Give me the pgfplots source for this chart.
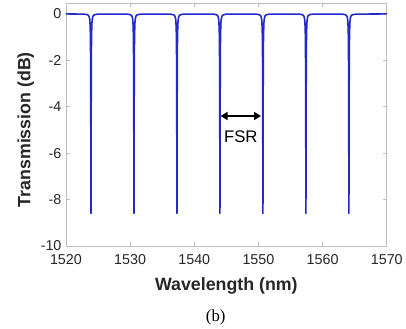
\documentclass[border=0pt]{standalone}
\usepackage{pgfplots}
\pgfplotsset{compat=1.18}
\usepackage{pgfplotstable}
\usepackage{fontspec}
\setmainfont{Liberation Sans}
\newfontfamily\seriffont{Liberation Serif}
\usetikzlibrary{arrows.meta}
\definecolor{mblue}{RGB}{35,40,205}
\definecolor{tickgray}{RGB}{38,38,38}
\definecolor{axgray}{RGB}{190,190,190}
\pgfplotstableread{
x y
1520 0
1522.9 -0.01
1523.4 -0.04
1523.6 -0.10
1523.7 -0.23
1523.75 -0.39
1523.8 -0.82
1523.82 -1.20
1523.84 -1.89
1523.86 -3.24
1523.88 -5.90
1523.9 -8.60
1523.92 -5.90
1523.94 -3.24
1523.96 -1.89
1523.98 -1.20
1524.0 -0.82
1524.05 -0.39
1524.1 -0.23
1524.2 -0.10
1524.4 -0.04
1524.9 -0.01
1529.6 -0.01
1530.1 -0.04
1530.3 -0.10
1530.4 -0.23
1530.45 -0.39
1530.5 -0.82
1530.52 -1.20
1530.54 -1.89
1530.56 -3.24
1530.58 -5.90
1530.6 -8.60
1530.62 -5.90
1530.64 -3.24
1530.66 -1.89
1530.68 -1.20
1530.7 -0.82
1530.75 -0.39
1530.8 -0.23
1530.9 -0.10
1531.1 -0.04
1531.6 -0.01
1536.3 -0.01
1536.8 -0.04
1537.0 -0.10
1537.1 -0.23
1537.15 -0.39
1537.2 -0.82
1537.22 -1.20
1537.24 -1.89
1537.26 -3.24
1537.28 -5.90
1537.3 -8.60
1537.32 -5.90
1537.34 -3.24
1537.36 -1.89
1537.38 -1.20
1537.4 -0.82
1537.45 -0.39
1537.5 -0.23
1537.6 -0.10
1537.8 -0.04
1538.3 -0.01
1543.0 -0.01
1543.5 -0.04
1543.7 -0.10
1543.8 -0.23
1543.85 -0.39
1543.9 -0.82
1543.92 -1.20
1543.94 -1.89
1543.96 -3.24
1543.98 -5.90
1544.0 -8.60
1544.02 -5.90
1544.04 -3.24
1544.06 -1.89
1544.08 -1.20
1544.1 -0.82
1544.15 -0.39
1544.2 -0.23
1544.3 -0.10
1544.5 -0.04
1545.0 -0.01
1549.7 -0.01
1550.2 -0.04
1550.4 -0.10
1550.5 -0.23
1550.55 -0.39
1550.6 -0.82
1550.62 -1.20
1550.64 -1.89
1550.66 -3.24
1550.68 -5.90
1550.7 -8.60
1550.72 -5.90
1550.74 -3.24
1550.76 -1.89
1550.78 -1.20
1550.8 -0.82
1550.85 -0.39
1550.9 -0.23
1551.0 -0.10
1551.2 -0.04
1551.7 -0.01
1556.4 -0.01
1556.9 -0.04
1557.1 -0.10
1557.2 -0.23
1557.25 -0.39
1557.3 -0.82
1557.32 -1.20
1557.34 -1.89
1557.36 -3.24
1557.38 -5.90
1557.4 -8.60
1557.42 -5.90
1557.44 -3.24
1557.46 -1.89
1557.48 -1.20
1557.5 -0.82
1557.55 -0.39
1557.6 -0.23
1557.7 -0.10
1557.9 -0.04
1558.4 -0.01
1563.1 -0.01
1563.6 -0.04
1563.8 -0.10
1563.9 -0.23
1563.95 -0.39
1564.0 -0.82
1564.02 -1.20
1564.04 -1.89
1564.06 -3.24
1564.08 -5.90
1564.1 -8.60
1564.12 -5.90
1564.14 -3.24
1564.16 -1.89
1564.18 -1.20
1564.2 -0.82
1564.25 -0.39
1564.3 -0.23
1564.4 -0.10
1564.6 -0.04
1565.1 -0.01
1570 0
}\spectrum
\begin{document}
\begin{tikzpicture}
\begin{axis}[
  scale only axis,
  width=323.5bp, height=244.5bp,
  xmin=1520, xmax=1570, ymin=-10, ymax=0.45,
  xtick={1520,1530,...,1570},
  ytick={-10,-8,...,0},
  axis line style={axgray, line width=0.6bp},
  tick style={axgray, line width=0.6bp},
  major tick length=4bp,
  tick align=inside,
  tick label style={font=\fontsize{14.5}{16}\selectfont, text=tickgray},
  /pgf/number format/assume math mode=true,
  /pgf/number format/1000 sep={},
  xticklabel style={yshift=-5bp},
  yticklabel style={xshift=-1bp},
  xlabel={\textbf{Wavelength (nm)}},
  ylabel={\textbf{Transmission (dB)}},
  label style={font=\fontsize{18}{20}\selectfont, text=tickgray},
  xlabel style={yshift=-6bp},
  ylabel style={xshift=-5bp},
]
\addplot[mblue, line width=1.6bp, line join=round] table[x=x,y=y] {\spectrum};
\draw[{Triangle[length=7bp,width=8bp]}-{Triangle[length=7bp,width=8bp]}, line width=2bp, black] (axis cs:1544.1,-4.4) -- (axis cs:1550.4,-4.4);
\node[font=\fontsize{17}{19}\selectfont, text=black] at (axis cs:1547.25,-5.3) {FSR};
\end{axis}
\node[font=\seriffont\fontsize{17}{19}\selectfont] at (151bp,-72bp) {(b)};
\useasboundingbox (-66.5bp,-82bp) rectangle (339.5bp,248bp);
\end{tikzpicture}
\end{document}
